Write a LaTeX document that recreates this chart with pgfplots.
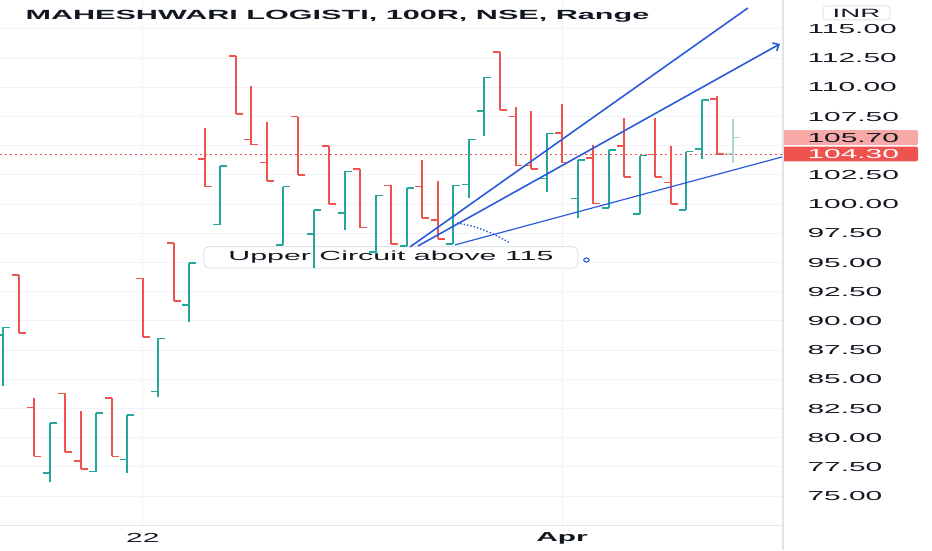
\documentclass[border=0pt]{standalone}
\usepackage{pgfplots}
\usepackage{pgfplotstable}
\pgfplotsset{compat=1.18}
\usetikzlibrary{arrows.meta}
\usepackage{fontspec}
\setmainfont{Liberation Sans}[FakeStretch=2.3]

\definecolor{tvred}{HTML}{EF5350}
\definecolor{tvteal}{HTML}{26A69A}
\definecolor{tvlight}{HTML}{A8DCD3}
\definecolor{tvblue}{HTML}{2A5BDB}
\definecolor{gridc}{HTML}{F0F3FA}
\definecolor{sepc}{HTML}{E0E3EB}
\definecolor{textc}{HTML}{131722}
\definecolor{pinkc}{HTML}{F7A9A8}

\newcommand{\tickfont}{\fontsize{13}{13}\selectfont}

% range bars (5.00 each): x = bar index, open high low close
\pgfplotstableread{
x  o      h      l      c
1  93.95  93.95  88.95  88.95
2  82.60  83.40  78.40  78.40
4  83.80  83.80  78.80  78.80
5  78.00  82.30  77.30  77.30
7  83.40  83.40  78.40  78.40
9  93.65  93.65  88.65  88.65
11 96.70  96.70  91.70  91.70
13 103.85 106.50 101.50 101.50
15 112.70 112.70 107.70 107.70
16 105.55 110.10 105.10 105.10
17 103.55 107.00 102.00 102.00
19 107.50 107.50 102.50 102.50
21 105.00 105.00 100.00 100.00
23 103.00 103.00 98.00  98.00
25 101.60 101.60 96.60  96.60
27 101.50 103.80 98.80  98.80
28 98.65  102.00 97.00  97.00
32 113.05 113.05 108.05 108.05
33 107.50 108.30 103.30 103.30
34 103.30 108.00 103.00 103.00
36 106.10 108.55 103.55 103.55
38 103.95 105.05 100.05 100.05
40 105.00 107.35 102.35 102.35
42 104.25 107.35 102.35 102.35
43 101.85 105.00 100.00 100.00
46 109.00 109.30 104.30 104.30
}\down

\pgfplotstableread{
x  o      h      l      c
0  88.80  89.45  84.45  89.45
3  77.00  81.25  76.25  81.25
6  77.10  82.10  77.10  82.10
8  78.15  81.95  76.95  81.95
10 83.95  88.50  83.50  88.50
12 91.35  94.95  89.95  94.95
14 98.25  103.25 98.25  103.25
18 96.50  101.50 96.50  101.50
20 97.45  99.50  94.50  99.50
22 99.25  102.80 97.80  102.80
24 95.90  100.75 95.75  100.75
26 96.40  101.40 96.40  101.40
29 96.60  101.60 96.60  101.60
30 101.70 105.55 100.55 105.55
31 108.00 110.85 105.85 110.85
35 102.20 106.05 101.05 106.05
37 100.50 103.80 98.80  103.80
39 99.65  104.65 99.65  104.65
41 99.15  104.15 99.15  104.15
44 99.50  104.50 99.50  104.50
45 104.70 108.90 103.90 108.90
}\up

\pgfplotstableread{
x  o      h      l      c
47 104.30 107.30 103.55 105.70
}\last

\pgfplotsset{
  hl/.style={quiver={u=0,v=\thisrow{h}-\thisrow{l}}, line width=2pt},
  tk/.style={quiver={u=0.45,v=0}, line width=1.6pt},
}

\begin{document}
\begin{tikzpicture}
\useasboundingbox (0pt,0pt) rectangle (932pt,550pt);
\begin{axis}[
    at={(0pt,25pt)}, anchor=south west,
    scale only axis, width=782pt, height=525pt,
    xmin=-0.193, xmax=50.16, ymin=72.53, ymax=117.48,
    axis line style={draw=none},
    tick style={draw=none},
    xtick={9,36}, xticklabels={22,\textbf{Apr}},
    ytick={75,77.5,...,102.5,107.5,110,112.5,115},
    extra y ticks={105}, extra y tick labels={},
    extra tick style={grid=major},
    yticklabel pos=right,
    grid=major,
    major grid style={draw=gridc, line width=1pt},
    xticklabel style={anchor=center, yshift=-13pt, font=\tickfont, text=textc},
    yticklabel style={anchor=west, xshift=22pt, font=\tickfont, text=textc,
      /pgf/number format/fixed, /pgf/number format/fixed zerofill,
      /pgf/number format/precision=2},
    /pgf/number format/assume math mode=true,
    clip=false,
]
\node[draw=sepc, fill=white, rounded corners=5pt, line width=1pt,
      minimum width=374pt, minimum height=21.6pt, inner sep=0pt,
      font=\fontsize{13.2}{14}\selectfont, text=textc]
      at (axis cs:24.98,95.44) {Upper Circuit above 115};

\addplot[draw=tvred, hl] table[x=x, y=l] {\down};
\addplot[draw=tvred, tk] table[x expr=\thisrow{x}-0.45, y=o] {\down};
\addplot[draw=tvred, tk] table[x=x, y=c] {\down};

\addplot[draw=tvteal, hl] table[x=x, y=l] {\up};
\addplot[draw=tvteal, tk] table[x expr=\thisrow{x}-0.45, y=o] {\up};
\addplot[draw=tvteal, tk] table[x=x, y=c] {\up};

\addplot[draw=tvlight, hl] table[x=x, y=l] {\last};
\addplot[draw=tvlight, tk] table[x expr=\thisrow{x}-0.45, y=o] {\last};
\addplot[draw=tvlight, tk] table[x=x, y=c] {\last};

% last price line
\addplot[tvred, line width=0.8pt, dash pattern=on 2pt off 3pt]
  coordinates {(-0.193,104.3) (50.16,104.3)};

% trend fan
\addplot[tvblue, line width=1.6pt] coordinates {(26.21,96.34) (47.97,116.80)};
\addplot[tvblue, line width=1.6pt, -{Straight Barb[length=5pt,width=9pt]}]
  coordinates {(26.72,96.42) (50.03,113.72)};
\addplot[tvblue, line width=1.2pt] coordinates {(29.10,96.51) (50.16,104.04)};
\addplot[tvblue, line width=1.4pt, dotted, smooth]
  coordinates {(29.23,98.39) (30.39,98.05) (31.55,97.45) (32.65,96.68)};
\addplot[tvblue, only marks, mark=o, mark size=2pt, line width=1.1pt,
  mark options={xscale=1.4}] coordinates {(37.57,95.22)};

% price labels on the scale
\fill[pinkc, rounded corners=2pt] (axis cs:50.16,105.7) ++(0pt,-7.4pt) rectangle ++(136pt,14.8pt);
\fill[tvred, rounded corners=2pt] (axis cs:50.16,104.3) ++(0pt,-7.4pt) rectangle ++(136pt,14.8pt);
\node[anchor=west, font=\tickfont, text=textc] at ([xshift=22pt]axis cs:50.16,105.7) {105.70};
\node[anchor=west, font=\tickfont, text=white] at ([xshift=22pt]axis cs:50.16,104.3) {104.30};
\end{axis}

\draw[sepc, line width=1pt] (0pt,25pt) -- (783pt,25pt);
\draw[sepc, line width=1.2pt] (783pt,0pt) -- (783pt,550pt);

\node[anchor=base west, font=\bfseries\fontsize{13.3}{14}\selectfont, text=textc]
  at (22pt,530.5pt) {MAHESHWARI LOGISTI, 100R, NSE, Range};
\node[draw=sepc, line width=1pt, rounded corners=3pt, minimum width=67pt,
  minimum height=14pt, inner sep=0pt, font=\fontsize{12}{12}\selectfont, text=textc]
  at (856.5pt,537pt) {INR};
\end{tikzpicture}
\end{document}
